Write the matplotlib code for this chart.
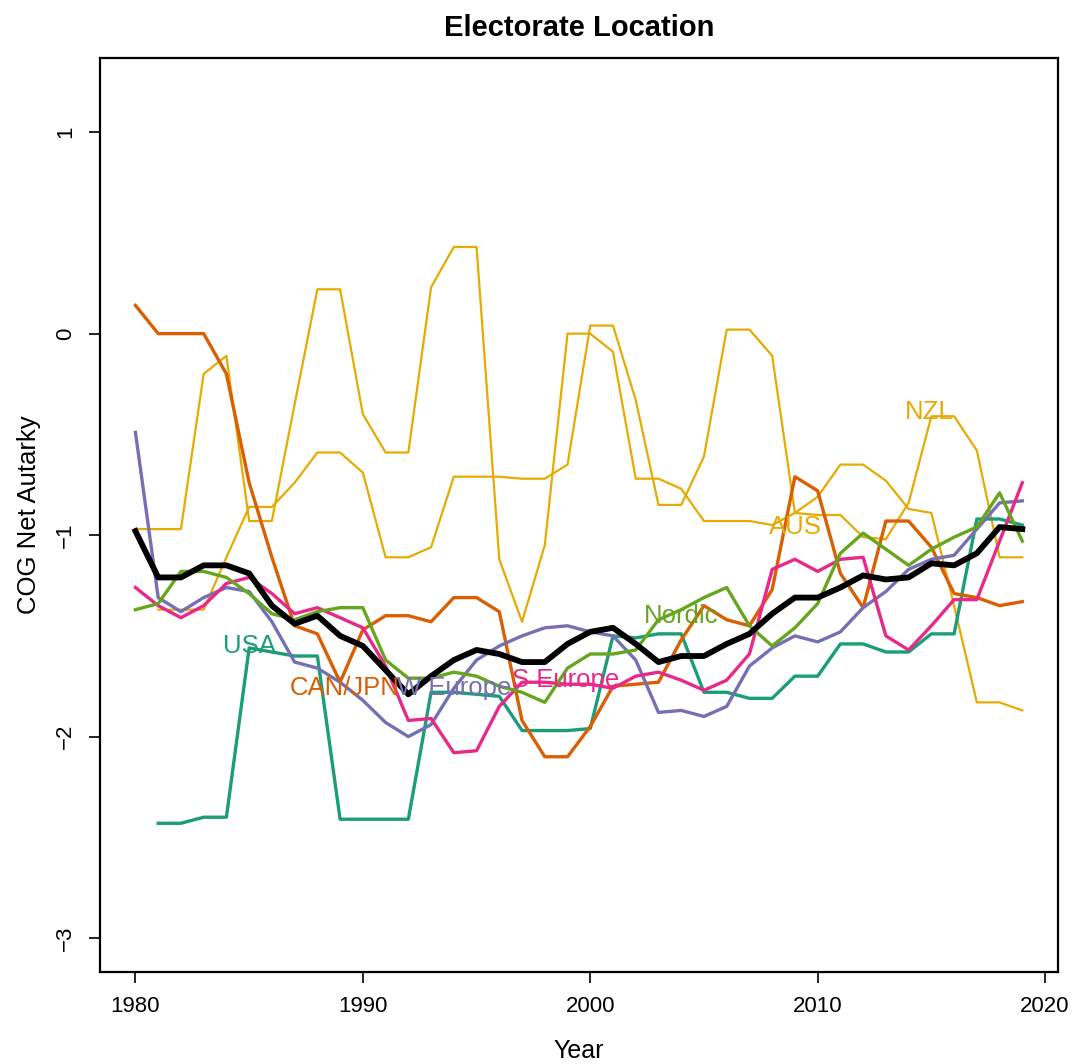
import numpy as np
import matplotlib
matplotlib.use("Agg")
import matplotlib.pyplot as plt

plt.rcParams['font.family'] = ['Liberation Sans', 'DejaVu Sans']

years = np.arange(1980, 2020)
nan = np.nan

usa = [nan, -2.43, -2.43, -2.40, -2.40, -1.56, -1.58, -1.60, -1.60, -2.41,
       -2.41, -2.41, -2.41, -1.78, -1.78, -1.79, -1.80, -1.97, -1.97, -1.97,
       -1.96, -1.50, -1.51, -1.49, -1.49, -1.78, -1.78, -1.81, -1.81, -1.70,
       -1.70, -1.54, -1.54, -1.58, -1.58, -1.49, -1.49, -0.92, -0.92, -0.95]

can_jpn = [0.14, 0.0, 0.0, 0.0, -0.20, -0.74, -1.11, -1.45, -1.49, -1.73,
           -1.47, -1.40, -1.40, -1.43, -1.31, -1.31, -1.38, -1.92, -2.10, -2.10,
           -1.95, -1.75, -1.74, -1.73, -1.52, -1.35, -1.42, -1.45, -1.27, -0.71,
           -0.78, -1.19, -1.36, -0.93, -0.93, -1.06, -1.29, -1.31, -1.35, -1.33]

w_europe = [-0.49, -1.31, -1.38, -1.31, -1.26, -1.28, -1.43, -1.63, -1.66, -1.73,
            -1.82, -1.93, -2.00, -1.94, -1.76, -1.62, -1.55, -1.50, -1.46, -1.45,
            -1.48, -1.50, -1.62, -1.88, -1.87, -1.90, -1.85, -1.65, -1.56, -1.50,
            -1.53, -1.48, -1.36, -1.28, -1.17, -1.12, -1.10, -0.97, -0.84, -0.83]

s_europe = [-1.26, -1.35, -1.41, -1.35, -1.24, -1.21, -1.29, -1.39, -1.36, -1.41,
            -1.46, -1.65, -1.92, -1.91, -2.08, -2.07, -1.85, -1.73, -1.73, -1.74,
            -1.74, -1.76, -1.70, -1.68, -1.72, -1.77, -1.72, -1.59, -1.17, -1.12,
            -1.18, -1.12, -1.11, -1.50, -1.57, -1.45, -1.32, -1.32, -1.03, -0.74]

nordic = [-1.37, -1.34, -1.18, -1.18, -1.21, -1.29, -1.39, -1.42, -1.38, -1.36,
          -1.36, -1.62, -1.71, -1.71, -1.68, -1.70, -1.75, -1.78, -1.83, -1.66,
          -1.59, -1.59, -1.57, -1.42, -1.37, -1.31, -1.26, -1.45, -1.55, -1.46,
          -1.34, -1.09, -0.99, -1.07, -1.15, -1.07, -1.01, -0.96, -0.79, -1.03]

aus = [-0.97, -0.97, -0.97, -0.20, -0.11, -0.93, -0.93, -0.35, 0.22, 0.22,
       -0.40, -0.59, -0.59, 0.23, 0.43, 0.43, -1.12, -1.43, -1.05, 0.0,
       0.0, -0.09, -0.72, -0.72, -0.77, -0.93, -0.93, -0.93, -0.95, -0.89,
       -0.81, -0.65, -0.65, -0.73, -0.87, -0.89, -1.35, -1.83, -1.83, -1.87]

nzl = [nan, -1.37, -1.37, -1.37, -1.11, -0.86, -0.86, -0.74, -0.59, -0.59,
       -0.69, -1.11, -1.11, -1.06, -0.71, -0.71, -0.71, -0.72, -0.72, -0.65,
       0.04, 0.04, -0.33, -0.85, -0.85, -0.61, 0.02, 0.02, -0.11, -0.89,
       -0.90, -0.90, -1.01, -1.02, -0.84, -0.41, -0.41, -0.58, -1.11, -1.11]

average = [-0.98, -1.21, -1.21, -1.15, -1.15, -1.19, -1.35, -1.44, -1.40, -1.50,
           -1.55, -1.67, -1.79, -1.70, -1.62, -1.57, -1.59, -1.63, -1.63, -1.54,
           -1.48, -1.46, -1.54, -1.63, -1.60, -1.60, -1.54, -1.49, -1.39, -1.31,
           -1.31, -1.26, -1.20, -1.22, -1.21, -1.14, -1.15, -1.09, -0.96, -0.97]

# label text and where it sits
labels = ["USA", "CAN/JPN", "W Europe", "S Europe", "Nordic", "AUS", "NZL"]
label_x = [1985.0, 1989.2, 1994.0, 1998.9, 2004.0, 2009.0, 2014.9]
label_y = [-1.55, -1.76, -1.76, -1.72, -1.40, -0.96, -0.39]

teal = "#1B9E77"
orange = "#D95F02"
purple = "#7570B3"
pink = "#E7298A"
green = "#66A61E"
yellow = "#E6AB02"
label_cols = [teal, orange, purple, pink, green, yellow, yellow]

fig = plt.figure(figsize=(10.75, 10.64), dpi=100)
ax = fig.add_axes([0.093, 0.0865, 0.891, 0.859])

ax.plot(years, aus, color=yellow, lw=1.6)
ax.plot(years, nzl, color=yellow, lw=1.6)
ax.plot(years, usa, color=teal, lw=2.4)
ax.plot(years, can_jpn, color=orange, lw=2.4)
ax.plot(years, w_europe, color=purple, lw=2.4)
ax.plot(years, s_europe, color=pink, lw=2.4)
ax.plot(years, nordic, color=green, lw=2.4)
ax.plot(years, average, color="black", lw=4.2)

for t, x, y, c in zip(labels, label_x, label_y, label_cols):
    ax.text(x, y, t, color=c, fontsize=18.5, ha="center", va="center")

ax.set_xlim(1978.44, 2020.56)
ax.set_ylim(-3.168, 1.368)
ax.set_xticks([1980, 1990, 2000, 2010, 2020])
ax.set_yticks([-3, -2, -1, 0, 1])
ax.set_yticklabels(["\u22123", "\u22122", "\u22121", "0", "1"], rotation=90, va="center")
ax.tick_params(direction="out", length=8, width=1.2, labelsize=16, pad=9)

for s in ax.spines.values():
    s.set_linewidth(1.6)

ax.set_xlabel("Year", fontsize=18, labelpad=16)
ax.set_ylabel("COG Net Autarky", fontsize=18.5, labelpad=10)
ax.set_title("Electorate Location", fontsize=21, fontweight="bold", pad=16)

fig.savefig("out.png", dpi=100)
